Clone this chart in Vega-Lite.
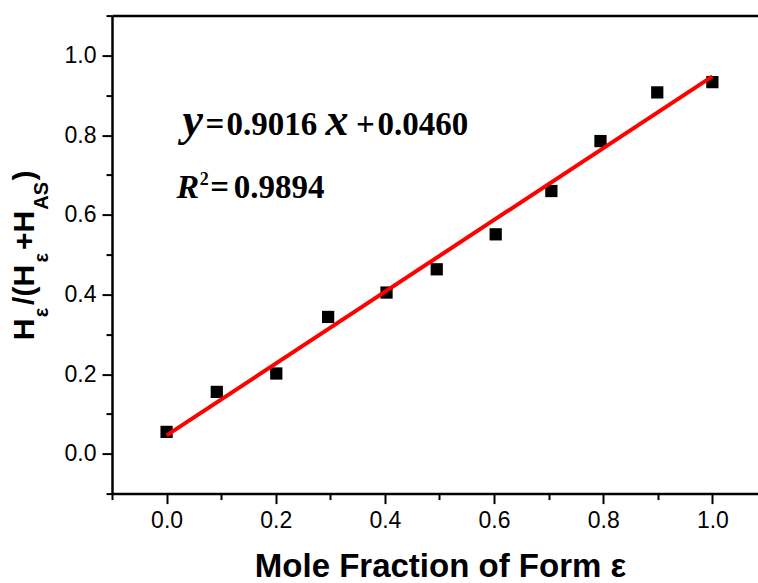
{
  "$schema": "https://vega.github.io/schema/vega-lite/v6.json",
  "width": 646,
  "height": 478,
  "autosize": {"type": "none"},
  "padding": {"left": 112, "top": 15.6, "right": 0, "bottom": 89.4},
  "background": "white",
  "config": {
    "view": {"stroke": null},
    "axis": {
      "labelFont": "Liberation Sans",
      "labelFontSize": 23,
      "labelColor": "#000000",
      "tickColor": "#000000",
      "domainColor": "#000000",
      "tickWidth": 2,
      "domainWidth": 2.5,
      "grid": false,
      "labelFlush": false,
      "labelOverlap": false
    }
  },
  "datasets": {
    "measured": [
      {"fraction": 0.000, "ratio": 0.0549},
      {"fraction": 0.092, "ratio": 0.1553},
      {"fraction": 0.201, "ratio": 0.2015},
      {"fraction": 0.296, "ratio": 0.3435},
      {"fraction": 0.403, "ratio": 0.4047},
      {"fraction": 0.495, "ratio": 0.4631},
      {"fraction": 0.603, "ratio": 0.5509},
      {"fraction": 0.705, "ratio": 0.6596},
      {"fraction": 0.795, "ratio": 0.7850},
      {"fraction": 0.899, "ratio": 0.9072},
      {"fraction": 1.000, "ratio": 0.9330}
    ],
    "fit": [
      {"fraction": 0.0, "ratio": 0.0460},
      {"fraction": 1.0, "ratio": 0.9476}
    ],
    "eqItalic": [
      {"fraction": 0.0293, "ratio": 0.7993, "label": "y"},
      {"fraction": 0.2913, "ratio": 0.7993, "label": "x"}
    ],
    "eqNumbers": [
      {"fraction": 0.0715, "ratio": 0.7993, "label": "="},
      {"fraction": 0.1099, "ratio": 0.7993, "label": "0.9016"},
      {"fraction": 0.3470, "ratio": 0.7993, "label": "+"},
      {"fraction": 0.3866, "ratio": 0.7993, "label": "0.0460"}
    ],
    "r2Italic": [
      {"fraction": 0.0183, "ratio": 0.6412, "label": "R"}
    ],
    "r2Numbers": [
      {"fraction": 0.0800, "ratio": 0.6412, "label": "="},
      {"fraction": 0.1230, "ratio": 0.6412, "label": "0.9894"}
    ],
    "r2Sup": [
      {"fraction": 0.0610, "ratio": 0.6738, "label": "2"}
    ],
    "yTitleMain": [
      {"fraction": -0.2436, "ratio": 0.2850, "label": "H"},
      {"fraction": -0.2436, "ratio": 0.3736, "label": "/(H"},
      {"fraction": -0.2436, "ratio": 0.5113, "label": "+H"},
      {"fraction": -0.2436, "ratio": 0.6859, "label": ")"}
    ],
    "yTitleSub": [
      {"fraction": -0.2180, "ratio": 0.3427, "label": "ε"},
      {"fraction": -0.2180, "ratio": 0.4804, "label": "ε"},
      {"fraction": -0.2180, "ratio": 0.6129, "label": "AS"}
    ]
  },
  "resolve": {"axis": {"x": "independent", "y": "independent"}},
  "layer": [
    {
      "data": {"name": "measured"},
      "mark": {"type": "point", "shape": "square", "filled": true, "size": 150, "color": "#000000", "opacity": 1},
      "encoding": {
        "x": {
          "field": "fraction", "type": "quantitative",
          "scale": {"domain": [-0.1, 1.0836], "nice": false, "zero": false},
          "axis": {
            "orient": "bottom",
            "values": [0, 0.2, 0.4, 0.6, 0.8, 1.0],
            "format": ".1f",
            "tickSize": 10,
            "labelPadding": 6,
            "title": "Mole Fraction of Form ε",
            "titleFont": "Liberation Sans",
            "titleFontWeight": "bold",
            "titleFontSize": 33,
            "titleColor": "#000000",
            "titleBaseline": "alphabetic",
            "titleX": 328,
            "titleY": 83
          }
        },
        "y": {
          "field": "ratio", "type": "quantitative",
          "scale": {"domain": [-0.1, 1.1], "nice": false, "zero": false},
          "axis": {
            "orient": "left",
            "values": [0, 0.2, 0.4, 0.6, 0.8, 1.0],
            "format": ".1f",
            "tickSize": 10,
            "labelPadding": 6,
            "title": null
          }
        }
      }
    },
    {
      "data": {"name": "fit"},
      "mark": {"type": "line", "color": "#ff0000", "strokeWidth": 4},
      "encoding": {
        "x": {
          "field": "fraction", "type": "quantitative",
          "scale": {"domain": [-0.1, 1.0836], "nice": false, "zero": false},
          "axis": {
            "orient": "bottom",
            "values": [-0.1, 0.1, 0.3, 0.5, 0.7, 0.9],
            "tickSize": 6,
            "labels": false,
            "domain": false,
            "title": null
          }
        },
        "y": {
          "field": "ratio", "type": "quantitative",
          "scale": {"domain": [-0.1, 1.1], "nice": false, "zero": false},
          "axis": {
            "orient": "left",
            "values": [-0.1, 0.1, 0.3, 0.5, 0.7, 0.9, 1.1],
            "tickSize": 6,
            "labels": false,
            "domain": false,
            "title": null
          }
        }
      }
    },
    {
      "data": {"name": "eqNumbers"},
      "mark": {"type": "text", "font": "Liberation Serif", "fontWeight": "bold", "fontSize": 33, "align": "left", "baseline": "alphabetic", "color": "#000000"},
      "encoding": {
        "x": {
          "field": "fraction", "type": "quantitative",
          "scale": {"domain": [-0.1, 1.0836], "nice": false, "zero": false},
          "axis": {"orient": "top", "ticks": false, "labels": false, "domain": true, "title": null}
        },
        "y": {"field": "ratio", "type": "quantitative", "scale": {"domain": [-0.1, 1.1], "nice": false, "zero": false}, "axis": null},
        "text": {"field": "label"}
      }
    },
    {
      "data": {"name": "eqItalic"},
      "mark": {"type": "text", "font": "Liberation Serif", "fontWeight": "bold", "fontStyle": "italic", "fontSize": 46, "align": "left", "baseline": "alphabetic", "color": "#000000"},
      "encoding": {
        "x": {"field": "fraction", "type": "quantitative", "scale": {"domain": [-0.1, 1.0836], "nice": false, "zero": false}, "axis": null},
        "y": {"field": "ratio", "type": "quantitative", "scale": {"domain": [-0.1, 1.1], "nice": false, "zero": false}, "axis": null},
        "text": {"field": "label"}
      }
    },
    {
      "data": {"name": "r2Italic"},
      "mark": {"type": "text", "font": "Liberation Serif", "fontWeight": "bold", "fontStyle": "italic", "fontSize": 34, "align": "left", "baseline": "alphabetic", "color": "#000000"},
      "encoding": {
        "x": {"field": "fraction", "type": "quantitative", "scale": {"domain": [-0.1, 1.0836], "nice": false, "zero": false}, "axis": null},
        "y": {"field": "ratio", "type": "quantitative", "scale": {"domain": [-0.1, 1.1], "nice": false, "zero": false}, "axis": null},
        "text": {"field": "label"}
      }
    },
    {
      "data": {"name": "r2Numbers"},
      "mark": {"type": "text", "font": "Liberation Serif", "fontWeight": "bold", "fontSize": 33, "align": "left", "baseline": "alphabetic", "color": "#000000"},
      "encoding": {
        "x": {"field": "fraction", "type": "quantitative", "scale": {"domain": [-0.1, 1.0836], "nice": false, "zero": false}, "axis": null},
        "y": {"field": "ratio", "type": "quantitative", "scale": {"domain": [-0.1, 1.1], "nice": false, "zero": false}, "axis": null},
        "text": {"field": "label"}
      }
    },
    {
      "data": {"name": "r2Sup"},
      "mark": {"type": "text", "font": "Liberation Serif", "fontWeight": "bold", "fontSize": 18, "align": "left", "baseline": "alphabetic", "color": "#000000"},
      "encoding": {
        "x": {"field": "fraction", "type": "quantitative", "scale": {"domain": [-0.1, 1.0836], "nice": false, "zero": false}, "axis": null},
        "y": {"field": "ratio", "type": "quantitative", "scale": {"domain": [-0.1, 1.1], "nice": false, "zero": false}, "axis": null},
        "text": {"field": "label"}
      }
    },
    {
      "data": {"name": "yTitleMain"},
      "mark": {"type": "text", "font": "Liberation Sans", "fontWeight": "bold", "fontSize": 30, "angle": 270, "align": "left", "baseline": "alphabetic", "color": "#000000"},
      "encoding": {
        "x": {"field": "fraction", "type": "quantitative", "scale": {"domain": [-0.1, 1.0836], "nice": false, "zero": false}, "axis": null},
        "y": {"field": "ratio", "type": "quantitative", "scale": {"domain": [-0.1, 1.1], "nice": false, "zero": false}, "axis": null},
        "text": {"field": "label"}
      }
    },
    {
      "data": {"name": "yTitleSub"},
      "mark": {"type": "text", "font": "Liberation Sans", "fontWeight": "bold", "fontSize": 20, "angle": 270, "align": "left", "baseline": "alphabetic", "color": "#000000"},
      "encoding": {
        "x": {"field": "fraction", "type": "quantitative", "scale": {"domain": [-0.1, 1.0836], "nice": false, "zero": false}, "axis": null},
        "y": {"field": "ratio", "type": "quantitative", "scale": {"domain": [-0.1, 1.1], "nice": false, "zero": false}, "axis": null},
        "text": {"field": "label"}
      }
    }
  ]
}
